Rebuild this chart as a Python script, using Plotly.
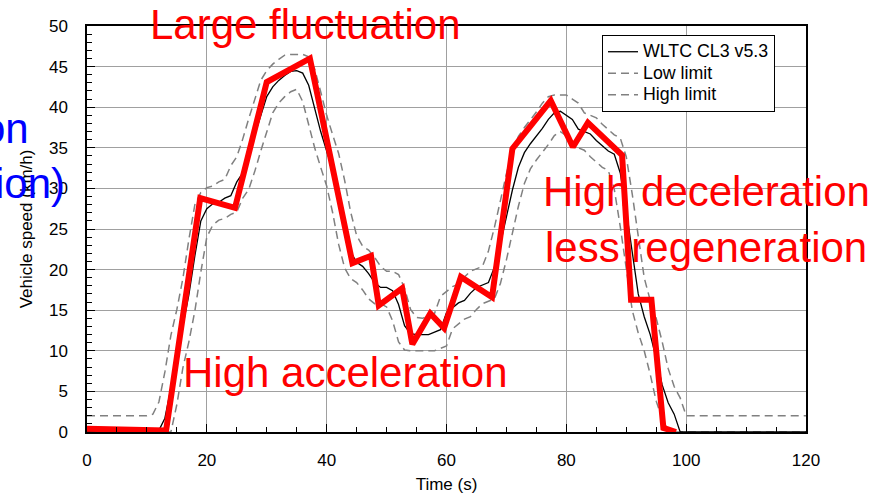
import plotly.graph_objects as go

# ---- data ----
time_s = list(range(0, 121))
wltc = [0, 0, 0, 0, 0, 0, 0, 0, 0, 0, 0, 0, 0.2, 1.7, 5.4, 9.9, 13.1, 16.9, 21.7, 26.0,
        27.5, 28.1, 28.3, 28.8, 29.1, 30.8, 31.9, 34.1, 36.6, 39.1, 41.3, 42.5, 43.3, 43.9, 44.4, 44.5,
        44.2, 42.7, 39.9, 37.0, 34.6, 32.3, 29.0, 25.1, 22.2, 20.9, 20.4, 19.5, 18.4, 17.8, 17.8,
        17.4, 15.7, 13.1, 12.1, 12.0, 12.0, 12.0, 12.3, 12.6, 14.7, 15.3, 15.9, 16.2, 17.1, 17.8,
        18.1, 18.4, 20.3, 23.2, 26.5, 29.8, 32.6, 34.4, 35.5, 36.4, 37.4, 38.5, 39.3, 39.5, 39.0,
        38.5, 37.3, 37.0, 36.7, 35.9, 35.3, 34.6, 34.2, 31.9, 27.3, 22.0, 17.0, 14.2, 12.0, 9.1,
        5.8, 3.6, 2.2, 0] + [0] * 21
high_limit = [2, 2, 2, 2, 2, 2, 2, 2, 2, 2, 2, 2.2, 3.7, 7.4, 11.9, 15.1, 18.9, 23.7, 28.0, 29.5,
              30.1, 30.3, 30.8, 31.1, 32.8, 33.9, 36.1, 38.6, 41.1, 43.3, 44.5, 45.3, 45.9, 46.4, 46.5,
              46.5, 46.5, 46.2, 44.7, 41.9, 39.0, 36.6, 34.3, 31.0, 27.1, 24.2, 22.9, 22.4, 21.5, 20.4,
              19.8, 19.8, 19.4, 17.7, 15.1, 14.1, 14.0, 14.3, 14.6, 16.7, 17.3, 17.9, 18.2, 19.1, 19.8,
              20.1, 20.4, 22.3, 25.2, 28.5, 31.8, 34.6, 36.4, 37.5, 38.4, 39.4, 40.5, 41.3, 41.5, 41.5,
              41.5, 41.0, 40.5, 39.3, 39.0, 38.7, 37.9, 37.3, 36.6, 36.2, 33.9, 29.3, 24.0, 19.0, 16.2,
              14.0, 11.1, 7.8, 5.6, 4.2] + [2] * 21
low_limit = [0, 0, 0, 0, 0, 0, 0, 0, 0, 0, 0, 0, 0, 0, 0, 3.4, 7.9, 11.1, 14.9, 19.7,
             24.0, 25.5, 26.1, 26.3, 26.8, 27.1, 28.8, 29.9, 32.1, 34.6, 37.1, 39.3, 40.5, 41.3, 41.9,
             42.2, 40.7, 37.9, 35.0, 32.6, 30.3, 27.0, 23.1, 20.2, 18.9, 18.4, 17.5, 16.4, 15.8, 15.8,
             15.4, 13.7, 11.1, 10.1, 10.0, 10.0, 10.0, 10.0, 10.0, 10.3, 10.6, 12.7, 13.3, 13.9, 14.2,
             15.1, 15.8, 16.1, 16.4, 18.3, 21.2, 24.5, 27.8, 30.6, 32.4, 33.5, 34.4, 35.4, 36.5, 37.0,
             36.5, 35.3, 35.0, 34.7, 33.9, 33.3, 32.6, 32.2, 29.9, 25.3, 20.0, 15.0, 12.2, 10.0, 7.1,
             3.8, 1.6, 0.2, 0] + [0] * 22
driven_t = [0, 13.2, 18.9, 24.7, 30.0, 37.2, 44.3, 47.4, 48.7, 52.6, 54.3, 57.3, 59.6, 62.4,
            67.6, 71.0, 77.4, 81.1, 83.6, 89.3, 90.8, 94.2, 96.2, 98.3]
driven_v = [0.4, 0.2, 28.8, 27.6, 43.1, 46.0, 20.8, 21.7, 15.6, 17.7, 10.8, 14.6, 12.8, 19.1,
            16.6, 34.9, 40.8, 35.1, 38.1, 34.1, 16.3, 16.3, 0.5, 0.0]

x_ticks = [0, 20, 40, 60, 80, 100, 120]
y_ticks = [0, 5, 10, 15, 20, 25, 30, 35, 40, 45, 50]

FONT = "Liberation Sans, Arial, sans-serif"
W, H = 881, 495
L, R, T, B = 87, 806, 26, 432


def px(xp):
    return (xp - L) / (R - L)


def py(yp):
    return (B - yp) / (B - T)


def big(name):
    return "<span style='font-size:17.8px'>" + name + "</span>"


fig = go.Figure()
dash = "8px,5px"
fig.add_trace(go.Scatter(x=time_s, y=low_limit, mode="lines", name=big("Low limit"),
                         line=dict(color="#808080", width=1.5, dash=dash), legendrank=2))
fig.add_trace(go.Scatter(x=time_s, y=high_limit, mode="lines", name=big("High limit"),
                         line=dict(color="#808080", width=1.5, dash=dash), legendrank=3))
fig.add_trace(go.Scatter(x=time_s, y=wltc, mode="lines", name=big("WLTC CL3 v5.3"),
                         line=dict(color="black", width=1.3), legendrank=1))
fig.add_trace(go.Scatter(x=driven_t, y=driven_v, mode="lines", name="Driven",
                         line=dict(color="#FF0000", width=6), showlegend=False))

annots = [
    ("Large fluctuation", 148, 25, "left", "#FF0000"),
    ("High acceleration", 181, 372, "left", "#FF0000"),
    ("High deceleration", 541, 191, "left", "#FF0000"),
    ("less regeneration", 543, 247, "left", "#FF0000"),
    ("on", 31, 128, "right", "#0000FF"),
    ("ion)", 67, 183, "right", "#0000FF"),
]
for text, xx, yy, anchor, col in annots:
    fig.add_annotation(text=text, x=px(xx), y=py(yy), xref="paper", yref="paper",
                       xanchor=anchor, yanchor="middle", showarrow=False,
                       font=dict(family=FONT, size=42, color=col))

axis_common = dict(showline=True, linecolor="black", linewidth=1.5, mirror=True,
                   showgrid=True, gridcolor="#a0a0a0", gridwidth=1,
                   ticks="inside", tickcolor="black", ticklen=8, tickwidth=1,
                   zeroline=False, automargin=False,
                   tickfont=dict(family=FONT, size=17, color="black"))

fig.update_xaxes(range=[0, 120], tickvals=x_ticks, ticktext=[str(v) for v in x_ticks],
                 title=dict(text="Time (s)", font=dict(family=FONT, size=17, color="black"), standoff=9),
                 minor=dict(dtick=5, tick0=0, ticks="inside", ticklen=5, tickcolor="black", showgrid=False),
                 ticklabelstandoff=12, **axis_common)
fig.update_yaxes(range=[0, 50], tickvals=y_ticks, ticktext=[str(v) for v in y_ticks],
                 title=dict(text="Vehicle speed (km/h)", font=dict(family=FONT, size=17, color="black"), standoff=12),
                 minor=dict(dtick=1, tick0=0, ticks="inside", ticklen=5, tickcolor="black", showgrid=False),
                 ticklabelstandoff=14, **axis_common)

fig.update_layout(
    width=W, height=H,
    margin=dict(l=L, r=W - R, t=T, b=H - B),
    paper_bgcolor="white", plot_bgcolor="white",
    font=dict(family=FONT, size=17, color="black"),
    legend=dict(x=px(602), y=py(35), xanchor="left", yanchor="top",
                bgcolor="white", bordercolor="black", borderwidth=1,
                font=dict(family=FONT, size=14.2, color="black"),
                tracegroupgap=0, itemwidth=30),
)

fig.write_html("out.html")
